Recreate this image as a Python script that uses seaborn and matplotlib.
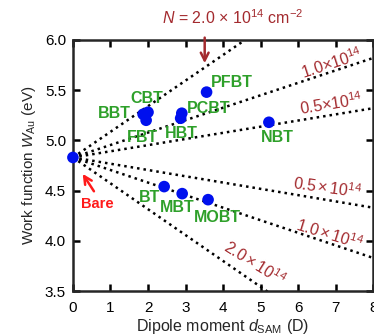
import seaborn as sns
import pandas as pd
import matplotlib
matplotlib.use("Agg")
import matplotlib.pyplot as plt

# SAM molecules: dipole moment (D) and work function of Au (eV)
names = ["PFBT", "CBT", "BBT", "FBT", "PCBT", "HBT", "NBT", "BT", "MBT", "MOBT"]
dipoles = [3.56, 2.00, 1.87, 1.95, 2.90, 2.87, 5.22, 2.43, 2.91, 3.60]
work_fn = [5.48, 5.28, 5.26, 5.20, 5.27, 5.22, 5.18, 4.54, 4.47, 4.41]

# bare gold
bare_d = 0.0
bare_w = 4.83

# model lines (dotted) : value reached at d = 8 D
line_names = ["+2.0", "+1.0", "+0.5", "-0.5", "-1.0", "-2.0"]
line_end_w = [6.87, 5.82, 5.32, 4.33, 3.83, 2.77]

# labels of the lines
line_labels = ["1.0$\\times$10$^{14}$", "0.5$\\times$10$^{14}$",
               "$0.5\\times10^{14}$", "$1.0\\times10^{14}$", "$2.0\\times10^{14}$"]

# label positions (data coords)
name_pos = {"PFBT": (4.22, 5.58), "CBT": (1.97, 5.42), "BBT": (1.10, 5.27),
            "FBT": (1.84, 5.03), "PCBT": (3.62, 5.32), "HBT": (2.90, 5.07),
            "NBT": (5.45, 5.03), "BT": (2.05, 4.43), "MBT": (2.77, 4.33),
            "MOBT": (3.86, 4.23)}

sns.set_style("ticks")
plt.rcParams["font.family"] = ["Liberation Sans", "DejaVu Sans"]
plt.rcParams["mathtext.fontset"] = "custom"
plt.rcParams["mathtext.rm"] = "Liberation Sans"
plt.rcParams["mathtext.it"] = "Liberation Sans:italic"

fig = plt.figure(figsize=(3.74, 3.35), dpi=100)
ax = fig.add_axes([0.195, 0.131, 0.803, 0.75])

green = "#2ea02a"
darkred = "#a32a2e"

# dotted lines
rows = []
for nm, w_end in zip(line_names, line_end_w):
    rows.append({"line": nm, "d": bare_d, "w": bare_w})
    rows.append({"line": nm, "d": 8.0, "w": w_end})
lines_df = pd.DataFrame(rows)
sns.lineplot(data=lines_df, x="d", y="w", units="line", estimator=None,
             color="black", lw=1.8, linestyle=(0, (1, 1.6)), ax=ax, legend=False)

# points
pts = pd.DataFrame({"d": dipoles + [bare_d], "w": work_fn + [bare_w]})
sns.scatterplot(data=pts, x="d", y="w", color="#0010ee", s=70,
                edgecolor="none", ax=ax, zorder=5, clip_on=False)

# molecule names
for nm in names:
    x, y = name_pos[nm]
    ax.text(x, y, nm, color=green, fontsize=11.5, fontweight="bold",
            ha="center", va="center")

# bare
ax.text(0.66, 4.37, "Bare", color="#ff1a1a", fontsize=10.5, fontweight="bold",
        ha="center", va="center")
ax.annotate("", xy=(0.22, 4.69), xytext=(0.6, 4.47),
            arrowprops=dict(arrowstyle="->", color="#ff1a1a", lw=1.8,
                            mutation_scale=14))

# line labels
ax.text(6.88, 5.77, line_labels[0], color=darkred, fontsize=11.5,
        rotation=18, ha="center", va="center")
ax.text(6.88, 5.36, line_labels[1], color=darkred, fontsize=11.5,
        rotation=9, ha="center", va="center")
ax.text(6.78, 4.53, line_labels[2], color=darkred, fontsize=11.5,
        rotation=-8, ha="center", va="center")
ax.text(6.84, 4.07, line_labels[3], color=darkred, fontsize=11.5,
        rotation=-17, ha="center", va="center")
ax.text(4.84, 3.78, line_labels[4], color=darkred, fontsize=11.5,
        rotation=-32, ha="center", va="center")

# top label and arrow
ax.text(4.26, 6.22, "$N$ = 2.0 $\\times$ 10$^{14}$ cm$^{-2}$", color=darkred,
        fontsize=11.5, ha="center", va="center", clip_on=False)
ax.annotate("", xy=(3.51, 5.74), xytext=(3.51, 6.05),
            arrowprops=dict(arrowstyle="->", color=darkred, lw=1.8,
                            mutation_scale=14), annotation_clip=False)

ax.set_xlim(0, 8)
ax.set_ylim(3.5, 6.0)
ax.set_xticks(range(0, 9))
ax.set_yticks([3.5, 4.0, 4.5, 5.0, 5.5, 6.0])
ax.set_yticklabels(["3.5", "4.0", "4.5", "5.0", "5.5", "6.0"])
ax.tick_params(direction="in", length=5, width=1.8, top=True, right=True,
               labelsize=11, colors="black", pad=5)
ax.tick_params(axis="x", pad=7)
for sp in ax.spines.values():
    sp.set_linewidth(1.8)
    sp.set_visible(True)

ax.set_xlabel("Dipole moment $d_{\\rm SAM}$ (D)", fontsize=11.5, labelpad=1.5)
ax.set_ylabel("Work function $W_{\\rm Au}$ (eV)", fontsize=11, labelpad=5)

fig.savefig("out.png", dpi=100)
